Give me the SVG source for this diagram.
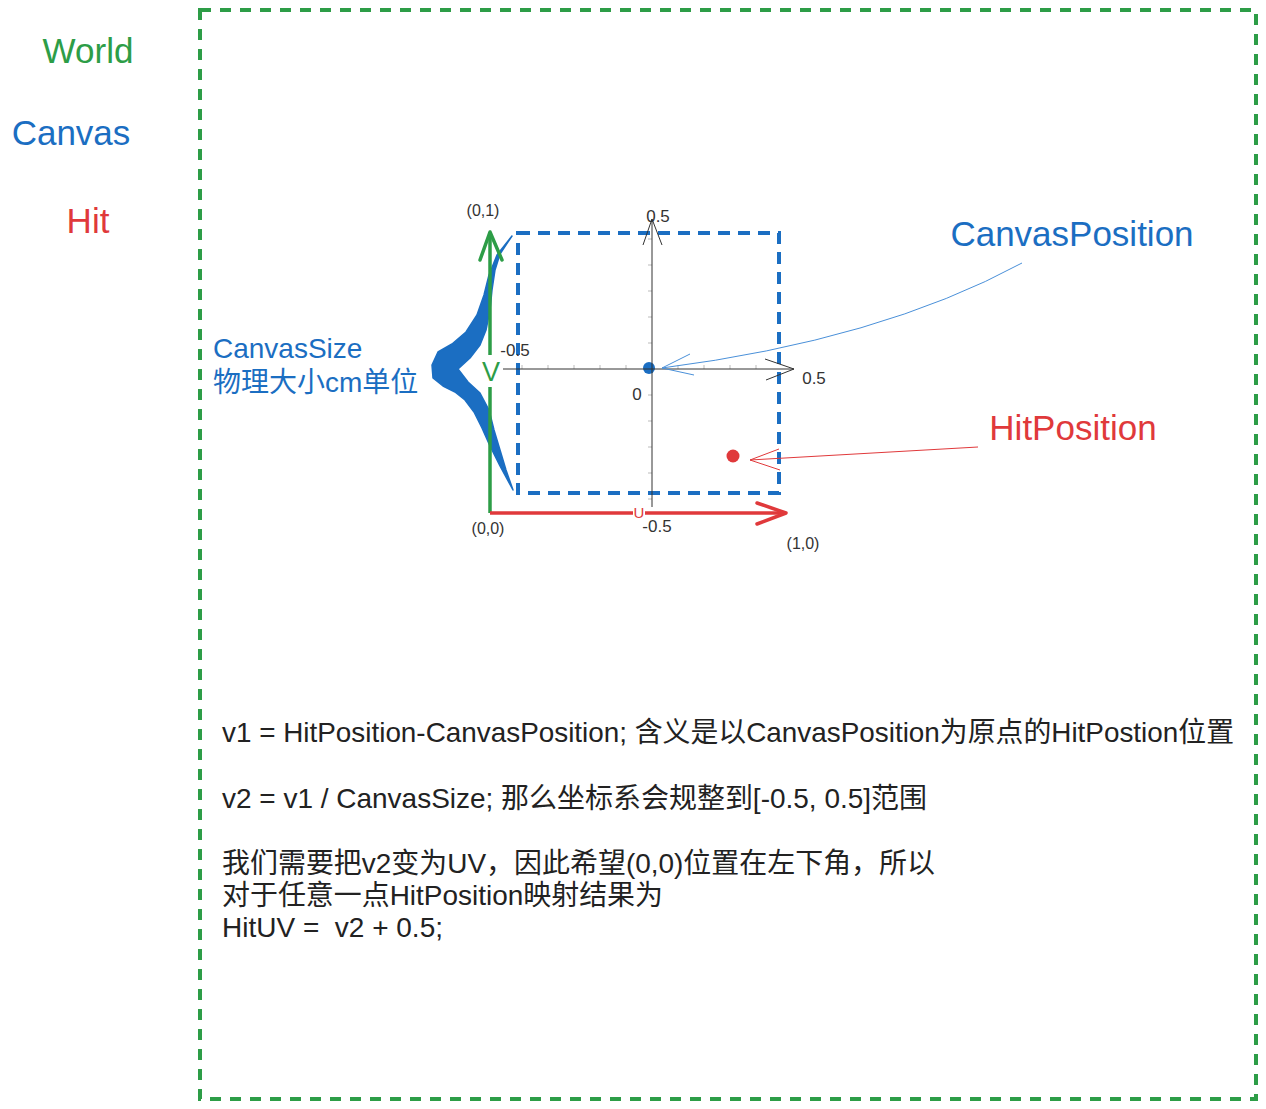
<svg xmlns="http://www.w3.org/2000/svg" width="1266" height="1109" viewBox="0 0 1266 1109">
<style>
text{font-family:"Liberation Sans",Arial,"Noto Sans CJK SC",sans-serif}
.big{font-size:35px}
.sm{font-size:17px;fill:#333}
.co{font-size:16px;fill:#333}
.body{font-size:28px;fill:#222}
.ax{stroke:#333;stroke-width:1;fill:none}
.tick{stroke:#bbb;stroke-width:1}
.blue{fill:#1b6ec2}
.red{fill:#e0393b}
.green{fill:#2d9d47}
</style>
<g id="world-frame">
<rect x="200" y="10" width="1056" height="1089" fill="none" stroke="#2d9d47" stroke-width="4" stroke-dasharray="11 9"/>
</g>
<g id="legend">
<text class="big green" x="88" y="63" text-anchor="middle">World</text>
<text class="big blue" x="71" y="145" text-anchor="middle">Canvas</text>
<text class="big red" x="88" y="233" text-anchor="middle">Hit</text>
</g>
<g id="canvas-brace">
<polygon class="blue" stroke="#1b6ec2" stroke-width="1.5" stroke-linejoin="round" points="512,236 497,255 489,275 484,295 477,315 466,332 452,344 438,352 432,365 433,378 443,386 455,392 465,400 474,412 482,428 490,446 500,466 513,490 506,470 500,450 494,430 489,410 480,393 468,382 458,369 470,358 480,345 486,330 490,310 492,290 495,270 500,254"/>
</g>
<g id="canvas-size-label">
<text class="blue" x="213" y="358" font-size="28">CanvasSize</text>
<text class="blue" x="213" y="392" font-size="28">物理大小cm单位</text>
</g>
<g id="canvas-rect">
<rect x="518" y="233" width="261" height="260" fill="none" stroke="#1b6ec2" stroke-width="4" stroke-dasharray="12 8"/>
</g>
<g id="canvas-dot"><circle cx="649" cy="368" r="6" fill="#1b6ec2"/></g>
<g id="hit-dot"><circle cx="733" cy="456" r="6.5" fill="#e0393b"/></g>
<g id="local-axes">
<g class="tick">
<path d="M648,239h4M648,265h4M648,291h4M648,317h4M648,343h4M648,395h4M648,421h4M648,447h4M648,473h4M648,499h4"/>
<path d="M522,369v-4M548,369v-4M574,369v-4M600,369v-4M626,369v-4M678,369v-4M704,369v-4M730,369v-4M756,369v-4"/>
</g>
<path class="ax" d="M503,369H794M765,359L794,369L766,380"/>
<path class="ax" d="M652,507V219M643,245L652,219L662,245"/>
<text class="sm" x="658" y="222" text-anchor="middle">0.5</text>
<text class="sm" x="515" y="356" text-anchor="middle">-0.5</text>
<text class="sm" x="637" y="400" text-anchor="middle">0</text>
<text class="sm" x="814" y="384" text-anchor="middle">0.5</text>
<text class="sm" x="657" y="532" text-anchor="middle">-0.5</text>
</g>
<g id="uv-axes">
<path d="M490,513V232" stroke="#2d9d47" stroke-width="3.5" fill="none"/>
<path d="M480,260L490,232L502,260" stroke="#2d9d47" stroke-width="3.5" fill="none" stroke-linecap="round" stroke-linejoin="round"/>
<path d="M490,513H785" stroke="#e0393b" stroke-width="3.5" fill="none"/>
<path d="M757,503L786,513L757,524" stroke="#e0393b" stroke-width="3.5" fill="none" stroke-linecap="round" stroke-linejoin="round"/>
<rect x="480" y="355" width="22" height="32" fill="#fff"/>
<text class="green" x="491" y="381" font-size="27" text-anchor="middle">V</text>
<rect x="633" y="507" width="12" height="12" fill="#fff"/>
<text class="red" x="639" y="518" font-size="15" text-anchor="middle">U</text>
<text class="co" x="483" y="216" text-anchor="middle">(0,1)</text>
<text class="co" x="488" y="534" text-anchor="middle">(0,0)</text>
<text class="co" x="803" y="549" text-anchor="middle">(1,0)</text>
</g>
<g id="connectors">
<path d="M1022,263 Q880,340 662,368" fill="none" stroke="#4a90d9" stroke-width="1"/>
<path d="M690,354L662,368L694,375" fill="none" stroke="#4a90d9" stroke-width="1"/>
<path d="M978,447L750,460" fill="none" stroke="#e0393b" stroke-width="1"/>
<path d="M779,449L750,460L780,470" fill="none" stroke="#e0393b" stroke-width="1"/>
</g>
<g id="canvas-position-label">
<text class="big blue" x="1072" y="246" text-anchor="middle">CanvasPosition</text>
</g>
<g id="hit-position-label">
<text class="big red" x="1073" y="440" text-anchor="middle">HitPosition</text>
</g>
<g id="notes">
<text class="body" x="222" y="742" textLength="1012" lengthAdjust="spacingAndGlyphs">v1 = HitPosition-CanvasPosition; 含义是以CanvasPosition为原点的HitPostion位置</text>
<text class="body" x="222" y="808" textLength="705" lengthAdjust="spacingAndGlyphs">v2 = v1 / CanvasSize; 那么坐标系会规整到[-0.5, 0.5]范围</text>
<text class="body" x="222" y="873" textLength="713" lengthAdjust="spacingAndGlyphs">我们需要把v2变为UV，因此希望(0,0)位置在左下角，所以</text>
<text class="body" x="222" y="905" textLength="441" lengthAdjust="spacingAndGlyphs">对于任意一点HitPosition映射结果为</text>
<text class="body" x="222" y="937" textLength="221" lengthAdjust="spacingAndGlyphs" xml:space="preserve">HitUV =  v2 + 0.5;</text>
</g>
</svg>
